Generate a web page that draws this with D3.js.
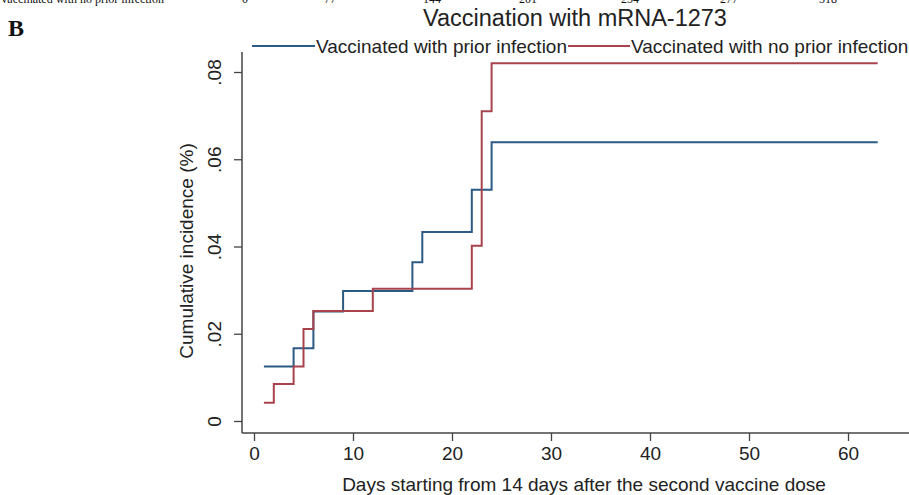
<!DOCTYPE html>
<html>
<head>
<meta charset="utf-8">
<script src="https://cdn.jsdelivr.net/npm/d3@7"></script>
<style>
  html, body { margin: 0; padding: 0; background: #fff; }
  svg { display: block; }
</style>
</head>
<body>
<svg id="chart" width="909" height="495"></svg>
<script>
// ---- data ----
const title = "Vaccination with mRNA-1273";
const panelLabel = "B";
const seriesNames = ["Vaccinated with prior infection", "Vaccinated with no prior infection"];
const priorDays = [1, 4, 6, 9, 16, 17, 22, 24, 63];
const priorValues = [0.0125, 0.0167, 0.0251, 0.0298, 0.0364, 0.0433, 0.0530, 0.0639, 0.0639];
const noPriorDays = [1, 2, 4, 5, 6, 12, 22, 23, 24, 63];
const noPriorValues = [0.0042, 0.0085, 0.0125, 0.0211, 0.0252, 0.0303, 0.0402, 0.0710, 0.0820, 0.0820];
const xTicks = [0, 10, 20, 30, 40, 50, 60];
const yTicks = [0, 0.02, 0.04, 0.06, 0.08];
const yTickLabels = ["0", ".02", ".04", ".06", ".08"];
const xTitle = "Days starting from 14 days after the second vaccine dose";
const yTitle = "Cumulative incidence (%)";
// cut-off table row above the figure
const tableRowLabel = "Vaccinated with no prior infection";
const tableRowValues = ["0", "77", "144", "201", "234", "277", "318"];

// ---- layout ----
const colors = ["#2b5a84", "#a8434d"];
const svg = d3.select("#chart");
const font = "'Liberation Sans', Arial, sans-serif";
const fs = 19;

const x = d3.scaleLinear().domain([0, 60]).range([254, 848]);
const y = d3.scaleLinear().domain([0, 0.08]).range([421, 72]);
const axisX0 = 242, axisY0 = 433;

// cut-off table row
svg.append("text").attr("x", 0).attr("y", 3)
  .attr("font-family", "'Liberation Serif', 'Times New Roman', serif")
  .attr("font-size", 12).attr("fill", "#111").text(tableRowLabel);
const tablePos = [245, 330, 432, 528, 630, 729, 828];
tableRowValues.forEach((v, i) => {
  svg.append("text").attr("x", tablePos[i]).attr("y", 3)
    .attr("text-anchor", "middle")
    .attr("font-family", "'Liberation Serif', 'Times New Roman', serif")
    .attr("font-size", 12).attr("fill", "#111").text(v);
});

// panel label
svg.append("text").attr("x", 8).attr("y", 36)
  .attr("font-family", "'Liberation Serif', 'Times New Roman', serif")
  .attr("font-weight", "bold").attr("font-size", 24).attr("fill", "#111")
  .text(panelLabel);

// title
svg.append("text").attr("x", 575).attr("y", 26).attr("text-anchor", "middle")
  .attr("font-family", font).attr("font-size", 23.5).attr("fill", "#222").text(title);

// legend
const legend = svg.append("g").attr("font-family", font).attr("font-size", fs).attr("fill", "#222");
const legendItems = [
  { x1: 252, x2: 315, tx: 316 },
  { x1: 568, x2: 630, tx: 631 }
];
legendItems.forEach((it, i) => {
  legend.append("line").attr("x1", it.x1).attr("x2", it.x2).attr("y1", 46).attr("y2", 46)
    .attr("stroke", colors[i]).attr("stroke-width", 2);
  legend.append("text").attr("x", it.tx).attr("y", 53).text(seriesNames[i]);
});

// axes
const xAxis = d3.axisBottom(x).tickValues(xTicks).tickSize(8).tickPadding(6).tickFormat(d3.format("d"));
const gx = svg.append("g").attr("transform", `translate(0,${axisY0})`).call(xAxis);
gx.select(".domain").remove();
gx.append("line").attr("x1", axisX0).attr("x2", 909).attr("y1", 0).attr("y2", 0)
  .attr("stroke", "#444").attr("stroke-width", 1.5);
gx.selectAll(".tick line").attr("stroke", "#444").attr("stroke-width", 1.3);
gx.selectAll(".tick text").attr("font-family", font).attr("font-size", fs).attr("fill", "#222");

const yAxis = d3.axisLeft(y).tickValues(yTicks).tickSize(8).tickFormat((d, i) => yTickLabels[i]);
const gy = svg.append("g").attr("transform", `translate(${axisX0},0)`).call(yAxis);
gy.select(".domain").remove();
gy.append("line").attr("x1", 0).attr("x2", 0).attr("y1", 52).attr("y2", axisY0)
  .attr("stroke", "#444").attr("stroke-width", 1.5);
gy.selectAll(".tick line").attr("stroke", "#444").attr("stroke-width", 1.3);
gy.selectAll(".tick text")
  .attr("font-family", font).attr("font-size", fs).attr("fill", "#222")
  .attr("text-anchor", "middle").attr("x", null).attr("dy", null)
  .attr("transform", "translate(-27,0) rotate(-90)")
  .attr("y", 6);

// axis titles
svg.append("text").attr("x", 584).attr("y", 491).attr("text-anchor", "middle")
  .attr("font-family", font).attr("font-size", fs).attr("fill", "#222").text(xTitle);
svg.append("text").attr("transform", "translate(193,251) rotate(-90)").attr("text-anchor", "middle")
  .attr("font-family", font).attr("font-size", fs).attr("fill", "#222").text(yTitle);

// step lines
const line = d3.line().curve(d3.curveStepAfter).x(d => x(d[0])).y(d => y(d[1]));
const series = [
  d3.zip(priorDays, priorValues),
  d3.zip(noPriorDays, noPriorValues)
];
series.forEach((s, i) => {
  svg.append("path").datum(s).attr("d", line).attr("fill", "none")
    .attr("stroke", colors[i]).attr("stroke-width", 2);
});
</script>
</body>
</html>
